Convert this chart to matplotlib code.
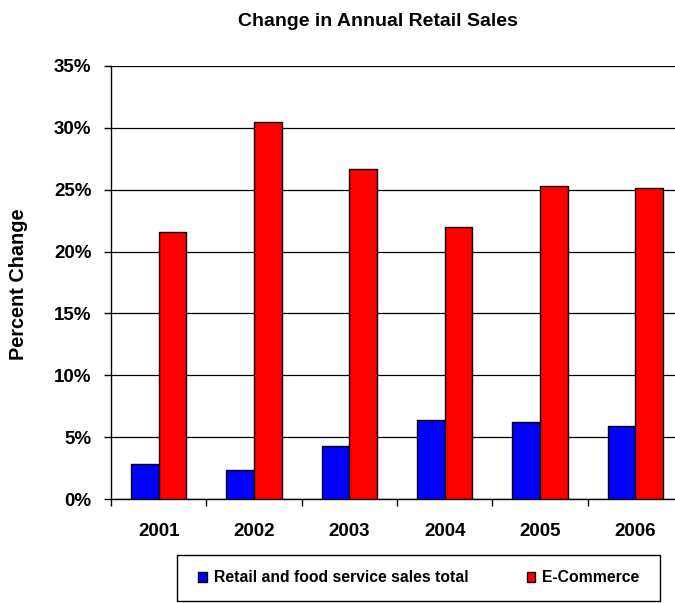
import numpy as np
import matplotlib.pyplot as plt
from matplotlib.patches import Rectangle
from matplotlib.ticker import PercentFormatter

years = ['2001', '2002', '2003', '2004', '2005', '2006']
retail = [2.8, 2.35, 4.3, 6.35, 6.2, 5.9]
ecommerce = [21.6, 30.5, 26.7, 22.0, 25.3, 25.1]

plt.rcParams['font.family'] = ['Liberation Sans', 'DejaVu Sans']
plt.rcParams['font.weight'] = 'bold'

fig = plt.figure(figsize=(6.75, 6.03), dpi=100)
ax = fig.add_axes([111 / 675, 1 - 499 / 603, 572 / 675, 433 / 603])

x = np.arange(len(years))
w = 0.29
ax.bar(x - w / 2, retail, w, color='#0000ff', edgecolor='black', linewidth=1,
       label='Retail and food service sales total', zorder=3)
ax.bar(x + w / 2, ecommerce, w, color='#ff0000', edgecolor='black', linewidth=1,
       label='E-Commerce', zorder=3)

ax.set_xlim(-0.5, len(years) - 0.5)
ax.set_ylim(0, 35)
ax.set_yticks(np.arange(0, 36, 5))
ax.yaxis.set_major_formatter(PercentFormatter(decimals=0))
ax.grid(axis='y', color='black', linewidth=0.9, zorder=0)

ax.set_xticks(np.arange(-0.5, len(years), 1))
ax.set_xticklabels([])
ax.set_xticks(x, minor=True)
ax.set_xticklabels(years, minor=True)
ax.tick_params(axis='x', which='major', length=5, width=1, direction='out')
ax.tick_params(axis='x', which='minor', length=0, pad=17, labelsize=13.5)
ax.tick_params(axis='y', length=5, width=1, labelsize=13.5, pad=9)

for s in ['top', 'right']:
    ax.spines[s].set_visible(False)
ax.spines['left'].set_linewidth(1)
ax.spines['bottom'].set_linewidth(1)

fig.text(378 / 675, 1 - 21 / 603, 'Change in Annual Retail Sales',
         ha='center', va='center', fontsize=14, fontweight='bold')
fig.text(19 / 675, 1 - 284 / 603, 'Percent Change', rotation=90,
         ha='center', va='center', fontsize=14.3, fontweight='bold')

# legend frame drawn separately so the padding can differ per side
fig.patches.append(Rectangle((177 / 675, 1 - 601 / 603), 483 / 675, 46 / 603,
                             transform=fig.transFigure, facecolor='white',
                             edgecolor='black', linewidth=1))
leg = fig.legend(loc='center', bbox_to_anchor=(419 / 675, 1 - 578 / 603), ncol=2,
                 frameon=False, fontsize=11.3,
                 handlelength=0.55, handleheight=0.55, handletextpad=0.45,
                 columnspacing=3.7, borderpad=0, borderaxespad=0)

fig.savefig('out.png', dpi=100)
